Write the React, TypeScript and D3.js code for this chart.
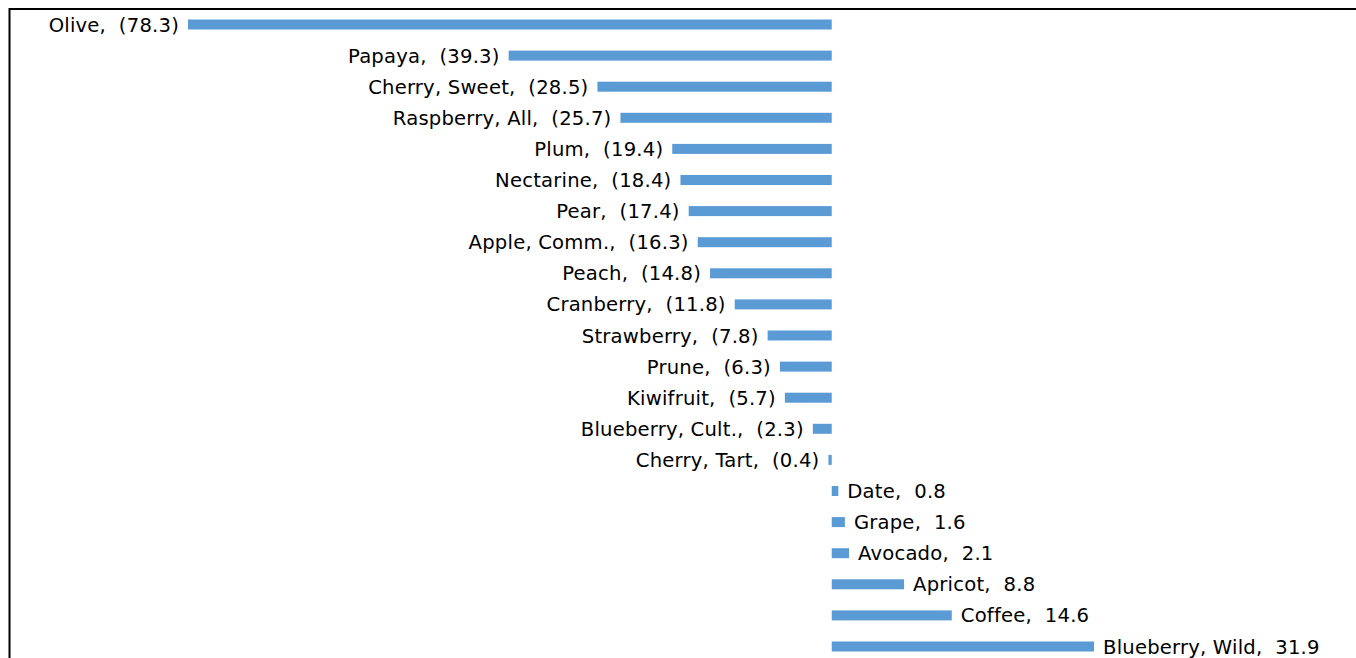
import React from 'react';
import * as d3 from 'd3';

// Fruit categories, top to bottom
const categories = [
  'Olive', 'Papaya', 'Cherry, Sweet', 'Raspberry, All', 'Plum', 'Nectarine', 'Pear',
  'Apple, Comm.', 'Peach', 'Cranberry', 'Strawberry', 'Prune', 'Kiwifruit',
  'Blueberry, Cult.', 'Cherry, Tart', 'Date', 'Grape', 'Avocado', 'Apricot',
  'Coffee', 'Blueberry, Wild',
];

const values = [
  -78.3, -39.3, -28.5, -25.7, -19.4, -18.4, -17.4, -16.3, -14.8, -11.8, -7.8, -6.3,
  -5.7, -2.3, -0.4, 0.8, 1.6, 2.1, 8.8, 14.6, 31.9,
];

const W = 1356;
const H = 658;
const barColor = '#5B9BD5';
const font = '"DejaVu Sans", sans-serif';

const fmt = (v: number) => (v < 0 ? `(${Math.abs(v).toFixed(1)})` : v.toFixed(1));

export default function App() {
  const x = d3.scaleLinear().domain([-78.3, 31.9]).range([188, 1094]);
  const y = d3.scalePoint<string>().domain(categories).range([24.5, 646.5]);
  const barH = 10;

  return (
    <svg
      width={W}
      height={H}
      style={{ position: 'absolute', left: 0, top: 0, background: '#fff' }}
    >
      {/* frame: top and left edges only */}
      <line x1={9.5} y1={9} x2={W} y2={9} stroke="#000" strokeWidth={2} />
      <line x1={9.5} y1={8} x2={9.5} y2={H} stroke="#000" strokeWidth={2} />

      {categories.map((c, i) => {
        const v = values[i];
        const x0 = x(Math.min(0, v));
        const x1 = x(Math.max(0, v));
        const cy = y(c) as number;
        const neg = v < 0;
        return (
          <g key={c}>
            <rect x={x0} y={cy - barH / 2} width={x1 - x0} height={barH} fill={barColor} />
            <text
              x={neg ? x0 - 9 : x1 + 9}
              y={cy}
              dy="0.36em"
              textAnchor={neg ? 'end' : 'start'}
              fontFamily={font}
              fontSize={19.6}
              letterSpacing={0.2}
              fill="#000"
              style={{ whiteSpace: 'pre' }}
            >
              {`${c},  ${fmt(v)}`}
            </text>
          </g>
        );
      })}
    </svg>
  );
}
